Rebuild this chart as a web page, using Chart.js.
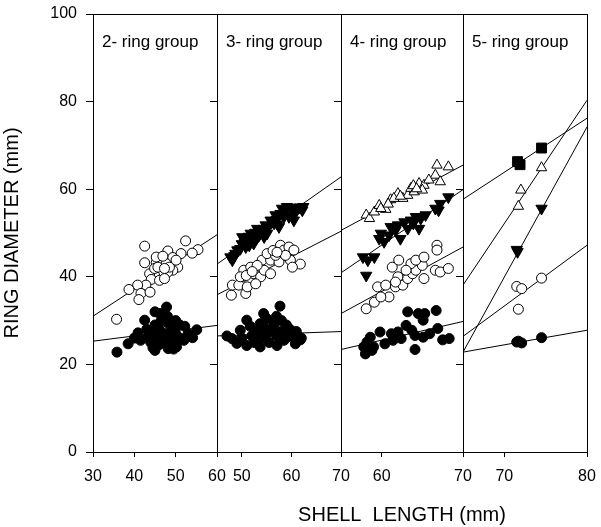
<!DOCTYPE html>
<html>
<head>
<meta charset="utf-8">
<script src="https://cdn.jsdelivr.net/npm/chart.js@4.4.1/dist/chart.umd.min.js"></script>
<style>
  html, body { margin: 0; padding: 0; background: #fff; }
  #wrap { position: relative; width: 601px; height: 527px; }
  #wrap canvas { position: absolute; left: 0; top: 0; }
</style>
</head>
<body>
<div id="wrap">
  <canvas id="p0" width="601" height="527"></canvas>
  <canvas id="p1" width="601" height="527"></canvas>
  <canvas id="p2" width="601" height="527"></canvas>
  <canvas id="p3" width="601" height="527"></canvas>
</div>
<script>
// --- axes ---
const Y_TICKS = [0, 20, 40, 60, 80, 100];
const PANEL_TITLES = ['2- ring group', '3- ring group', '4- ring group', '5- ring group'];
const X_RANGES = [[30, 60], [45, 70], [55, 70], [65, 80]];
const X_TICKS = [[30, 40, 50, 60], [50, 60, 70], [60, 70], [70, 80]];
const X_TITLE = 'SHELL  LENGTH (mm)';
const Y_TITLE = 'RING DIAMETER (mm)';

// --- 2- ring group ---
const P1_OPEN = [[42.5,47.0],[52.4,48.2],[55.4,46.2],[54.0,45.4],[51.3,45.3],[48.1,45.9],[49.3,44.4],[42.5,43.2],
  [45.3,43.2],[46.5,43.4],[47.7,43.0],[50.5,42.2],[49.3,41.5],[48.1,41.1],[46.5,40.7],[44.9,40.3],[43.7,40.7],
  [44.1,39.4],[46.1,39.2],[47.3,39.6],[42.8,38.1],[40.8,38.1],[38.7,37.1],[41.6,36.2],[43.8,36.5],[41.1,34.8],
  [35.7,30.3],[45.3,44.5],[46.9,44.7],[44.9,41.9],[45.7,42.2],[48.5,42.2],[47.3,41.9],[50.1,43.8]];
const P1_FILLED = [[35.8,22.8],[38.5,24.7],[40.9,27.2],[42.5,30.1],[45.0,32.0],[47.8,33.1],[46.2,31.6],[52.2,28.7],
  [55.1,27.9],[54.1,26.1],[45.0,23.2],[48.2,23.6],[50.2,24.0],[43,26],[44,27.5],[45,29],[46,28],[47,27],[48,29.5],
  [49,28],[50,27],[51,26],[47,25],[46,24.5],[44,25],[49,25.5],[51,29],[43,28],[48,31],[46.5,30],[50,30],[45.5,26],
  [52,25.5],[41.5,25.5],[40,26],[53,27],[47.5,27],[44.5,23.8],[49.5,23.5]];
const P1_FIT_OPEN = [31.0, 49.6];
const P1_FIT_FILLED = [25.3, 28.9];

// --- 3- ring group ---
const P2_DOWN = [[47.7,44.5],[48.7,45.3],[49.7,46.4],[50.1,49.1],[51.1,48.3],[51.8,49.9],[52.4,47.6],[53.1,51.0],
  [54.1,50.6],[54.8,51.8],[55.8,52.9],[56.8,54.1],[57.5,51.4],[58.1,55.6],[59.1,56.0],[60.2,55.2],[61.2,55.6],
  [62.2,55.2],[60.5,52.9],[58.5,53.7],[55.1,49.9],[53.5,49.5],[51.5,47.2],[49.1,46.1],[48.1,43.8],[56.5,52.2],
  [59.5,53.7],[54.5,49.1],[50.8,46.8],[48.5,44.8],[49.3,46.0],[50.0,47.5],[50.6,47.8],[51.4,49.2],[52.0,48.6],
  [52.7,50.1],[53.6,50.3],[54.4,51.0],[55.4,51.4],[56.1,52.6],[57.0,53.0],[57.8,54.4],[58.7,54.8],[59.8,55.8],
  [60.8,54.6],[61.6,55.9],[62.4,56.0],[57.2,52.0],[53.0,48.8]];
const P2_OPEN = [[48.1,38.1],[47.9,35.8],[50.8,36.2],[49.4,38.1],[50.4,41.5],[51.4,39.6],[52.4,40.7],[53.8,40.0],
  [54.5,41.5],[55.8,40.7],[54.1,43.8],[55.8,43.8],[55.1,45.3],[57.8,47.2],[58.5,46.1],[59.5,46.8],[60.5,46.1],
  [59.8,43.8],[61.8,42.9],[60.2,42.2],[57.5,43.4],[51.8,42.2],[53.1,42.6],[56.8,44.9],[51.1,37.7],[52.8,38.4],
  [49.7,40.0],[58.8,44.9],[50.9,40.3],[52.1,41.2],[56.3,46.0],[57.1,45.6]];
const P2_FILLED = [[48.0,25.9],[49.7,27.8],[51.7,28.7],[53.7,29.3],[56.4,29.7],[59.7,28.0],[61.8,25.6],[60.8,24.7],
  [51.0,24.3],[53.7,24.0],[57.1,24.3],[59.1,26.2],[57.7,33.3],[54.4,31.6],[51.0,30.1],[50,26],[52,26.5],[53,27.5],
  [54,26],[55,27],[55.5,25],[56,28],[57,26.5],[58,27.5],[58.5,25.5],[59,29],[60,26.5],[61,27.5],[62,26],[55,30.5],
  [57,31],[56.5,29],[52.5,25],[49,24.8],[54.5,28.5],[58,30],[47,26.5]];
const P2_FIT_DOWN = [42.9, 62.8];
const P2_FIT_OPEN = [35.9, 50.4];
const P2_FIT_FILLED = [26.5, 27.5];

// --- 4- ring group ---
const P3_UP = [[58.1,54.1],[58.5,53.3],[59.1,54.8],[59.7,56.3],[60.5,55.4],[61.1,57.6],[62.0,59.0],[62.6,57.9],
  [63.2,58.6],[63.6,60.2],[64.0,59.4],[64.6,61.3],[65.2,60.9],[65.0,59.8],[66.6,63.2],[66.8,65.5],[67.2,61.7],
  [68.2,65.1],[61.5,57.9],[59.9,55.6],[65.8,62.1],[60.8,56.6],[62.3,58.4],[63.9,60.8],[64.3,60.1]];
const P3_DOWN = [[57.7,44.5],[58.3,43.8],[59.1,44.5],[58.1,40.3],[59.7,48.7],[60.3,48.0],[61.1,51.4],[61.7,50.6],
  [62.3,48.7],[62.8,52.5],[63.6,52.9],[64.2,53.7],[64.8,53.3],[64.6,51.0],[66.6,55.6],[67.0,55.2],[67.2,56.7],
  [68.2,58.2],[59.9,49.9],[63.2,51.0],[65.4,54.1],[60.9,49.5],[62.0,51.8],[63.9,52.2]];
const P3_OPEN = [[58.1,32.7],[59.1,34.2],[59.5,37.7],[60.5,38.1],[60.9,35.4],[61.7,37.7],[62.6,38.1],[62.0,40.0],
  [63.2,39.6],[63.8,40.7],[64.2,41.5],[65.2,39.6],[65.0,42.6],[66.6,41.5],[67.2,41.1],[68.2,41.9],[61.3,42.2],
  [62.1,43.8],[63.6,43.0],[64.2,43.8],[65.2,44.5],[66.8,47.2],[66.8,46.1],[63.0,41.5],[61.7,38.8],[59.9,35.4]];
const P3_FILLED = [[58.0,22.4],[58.2,25.1],[58.6,26.2],[59.8,27.4],[61.2,27.0],[62.0,27.4],[63.2,32.0],[64.5,31.6],
  [65.3,31.6],[66.7,32.3],[63.0,28.9],[64.1,26.6],[64.1,23.4],[65.1,30.1],[66.9,28.2],[67.5,25.6],[68.3,25.9],
  [65.1,26.2],[61.4,25.5],[60.4,24.7],[59.0,24.0],[62.4,25.9],[63.7,27.8],[65.9,27.0],[57.8,24.0],[58.8,23.2]];
const P3_FIT_UP = [50.6, 65.5];
const P3_FIT_DOWN = [40.9, 59.9];
const P3_FIT_OPEN = [31.6, 46.8];
const P3_FIT_FILLED = [23.4, 29.8];

// --- 5- ring group ---
const P4_SQUARE = [[71.6,66.3],[71.9,65.6],[74.5,69.4]];
const P4_UP = [[74.5,64.9],[72.0,59.8],[71.7,56.1]];
const P4_DOWN = [[74.5,55.6],[71.6,45.7],[71.5,46.2]];
const P4_OPEN = [[71.5,37.8],[72.1,37.3],[74.5,39.7],[71.7,32.6]];
const P4_FILLED = [[71.7,25.3],[72.1,24.9],[74.5,26.1],[71.5,25.1]];
const P4_FIT_SQUARE = [57.7, 76.2];
const P4_FIT_UP = [38.1, 80.3];
const P4_FIT_DOWN = [22.8, 74.2];
const P4_FIT_OPEN = [26.4, 47.2];
const P4_FIT_FILLED = [22.8, 27.8];

// --- layout (pixel edges of the four panels) ---
const EDGES = [93, 217, 341, 463, 587];
const TOP = 14, BOTTOM = 452, W = 601, H = 527;
const FONT = 'Liberation Sans, Arial, sans-serif';

const MARKS = {
    filledCircle: { style: 'circle', r: 5, fill: '#000', rot: 0 },
    openCircle: { style: 'circle', r: 5, fill: '#fff', rot: 0 },
    openUp: { style: 'triangle', r: 6, fill: '#fff', rot: 0 },
    filledDown: { style: 'triangle', r: 6.5, fill: '#000', rot: 180 },
    filledSquare: { style: 'rect', r: 7, fill: '#000', rot: 0 }
};

const PANELS = [
    [
        { pts: P1_OPEN, mark: 'openCircle', fit: P1_FIT_OPEN },
        { pts: P1_FILLED, mark: 'filledCircle', fit: P1_FIT_FILLED }
    ],
    [
        { pts: P2_DOWN, mark: 'filledDown', fit: P2_FIT_DOWN },
        { pts: P2_OPEN, mark: 'openCircle', fit: P2_FIT_OPEN },
        { pts: P2_FILLED, mark: 'filledCircle', fit: P2_FIT_FILLED }
    ],
    [
        { pts: P3_UP, mark: 'openUp', fit: P3_FIT_UP },
        { pts: P3_DOWN, mark: 'filledDown', fit: P3_FIT_DOWN },
        { pts: P3_OPEN, mark: 'openCircle', fit: P3_FIT_OPEN },
        { pts: P3_FILLED, mark: 'filledCircle', fit: P3_FIT_FILLED }
    ],
    [
        { pts: P4_SQUARE, mark: 'filledSquare', fit: P4_FIT_SQUARE },
        { pts: P4_UP, mark: 'openUp', fit: P4_FIT_UP },
        { pts: P4_DOWN, mark: 'filledDown', fit: P4_FIT_DOWN },
        { pts: P4_OPEN, mark: 'openCircle', fit: P4_FIT_OPEN },
        { pts: P4_FILLED, mark: 'filledCircle', fit: P4_FIT_FILLED }
    ]
];

// box around each panel, the group label inside it, and the shared x title
const panelDecor = {
    id: 'panelDecor',
    afterDraw(chart, args, opts) {
        const { ctx, chartArea: a } = chart;
        ctx.save();
        ctx.strokeStyle = '#000';
        ctx.lineWidth = 1;
        ctx.strokeRect(a.left + 0.5, a.top + 0.5, a.right - a.left, a.bottom - a.top);
        ctx.fillStyle = '#000';
        ctx.font = '17px ' + FONT;
        ctx.textBaseline = 'alphabetic';
        ctx.textAlign = 'left';
        ctx.fillText(opts.title, a.left + 9, a.top + 33);
        if (opts.xTitle) {
            ctx.font = '20px ' + FONT;
            ctx.textAlign = 'center';
            ctx.fillText(opts.xTitle, (a.left + a.right) / 2, 521);
        }
        ctx.restore();
    }
};

// stop Chart.js from shrinking the plot area for labels at its edges
function noEdgePadding(axis) {
    axis.paddingTop = 0;
    axis.paddingBottom = 0;
    axis.paddingLeft = 0;
    axis.paddingRight = 0;
}

function buildPanel(i) {
    const range = X_RANGES[i];
    const datasets = [];
    PANELS[i].forEach(s => {
        const m = MARKS[s.mark];
        // regression line, drawn under the points
        datasets.push({
            data: [{ x: range[0], y: s.fit[0] }, { x: range[1], y: s.fit[1] }],
            showLine: true,
            borderColor: '#000',
            borderWidth: 1,
            pointRadius: 0,
            order: 2
        });
        datasets.push({
            data: s.pts.map(([x, y]) => ({ x, y })),
            pointStyle: m.style,
            pointRadius: m.r,
            pointRotation: m.rot,
            pointBackgroundColor: m.fill,
            pointBorderColor: '#000',
            pointBorderWidth: 1,
            showLine: false,
            order: 1
        });
    });

    const first = i === 0;
    const yWidth = first ? EDGES[0] : 7;
    const xTicks = X_TICKS[i];

    new Chart(document.getElementById('p' + i), {
        type: 'scatter',
        data: { datasets },
        plugins: [panelDecor],
        options: {
            responsive: false,
            animation: false,
            devicePixelRatio: 1,
            layout: {
                padding: {
                    left: first ? 0 : EDGES[i] - yWidth,
                    right: W - EDGES[i + 1],
                    top: TOP,
                    bottom: 0
                }
            },
            plugins: {
                legend: { display: false },
                tooltip: { enabled: false },
                panelDecor: { title: PANEL_TITLES[i], xTitle: i === 2 ? X_TITLE : null }
            },
            scales: {
                x: {
                    type: 'linear',
                    min: range[0],
                    max: range[1],
                    afterBuildTicks: axis => { axis.ticks = xTicks.map(v => ({ value: v })); },
                    afterFit: axis => { axis.height = H - BOTTOM; noEdgePadding(axis); },
                    grid: { drawOnChartArea: false, drawTicks: true, tickLength: 5, color: '#000' },
                    border: { display: true, color: '#000', width: 1 },
                    ticks: {
                        autoSkip: false, maxRotation: 0, padding: 10,
                        color: '#000', font: { family: FONT, size: 16 }
                    }
                },
                y: {
                    type: 'linear',
                    min: Y_TICKS[0],
                    max: Y_TICKS[Y_TICKS.length - 1],
                    afterBuildTicks: axis => { axis.ticks = Y_TICKS.map(v => ({ value: v })); },
                    afterFit: axis => { axis.width = yWidth; noEdgePadding(axis); },
                    grid: { drawOnChartArea: false, drawTicks: true, tickLength: 7, color: '#000' },
                    border: { display: true, color: '#000', width: 1 },
                    ticks: {
                        display: first, padding: 9,
                        color: '#000', font: { family: FONT, size: 16 }
                    },
                    title: {
                        display: first,
                        text: Y_TITLE,
                        color: '#000',
                        font: { family: FONT, size: 20 },
                        padding: { top: 0, bottom: 0 }
                    }
                }
            }
        }
    });
}

for (let i = 0; i < 4; i++) {
    buildPanel(i);
}
</script>
</body>
</html>
